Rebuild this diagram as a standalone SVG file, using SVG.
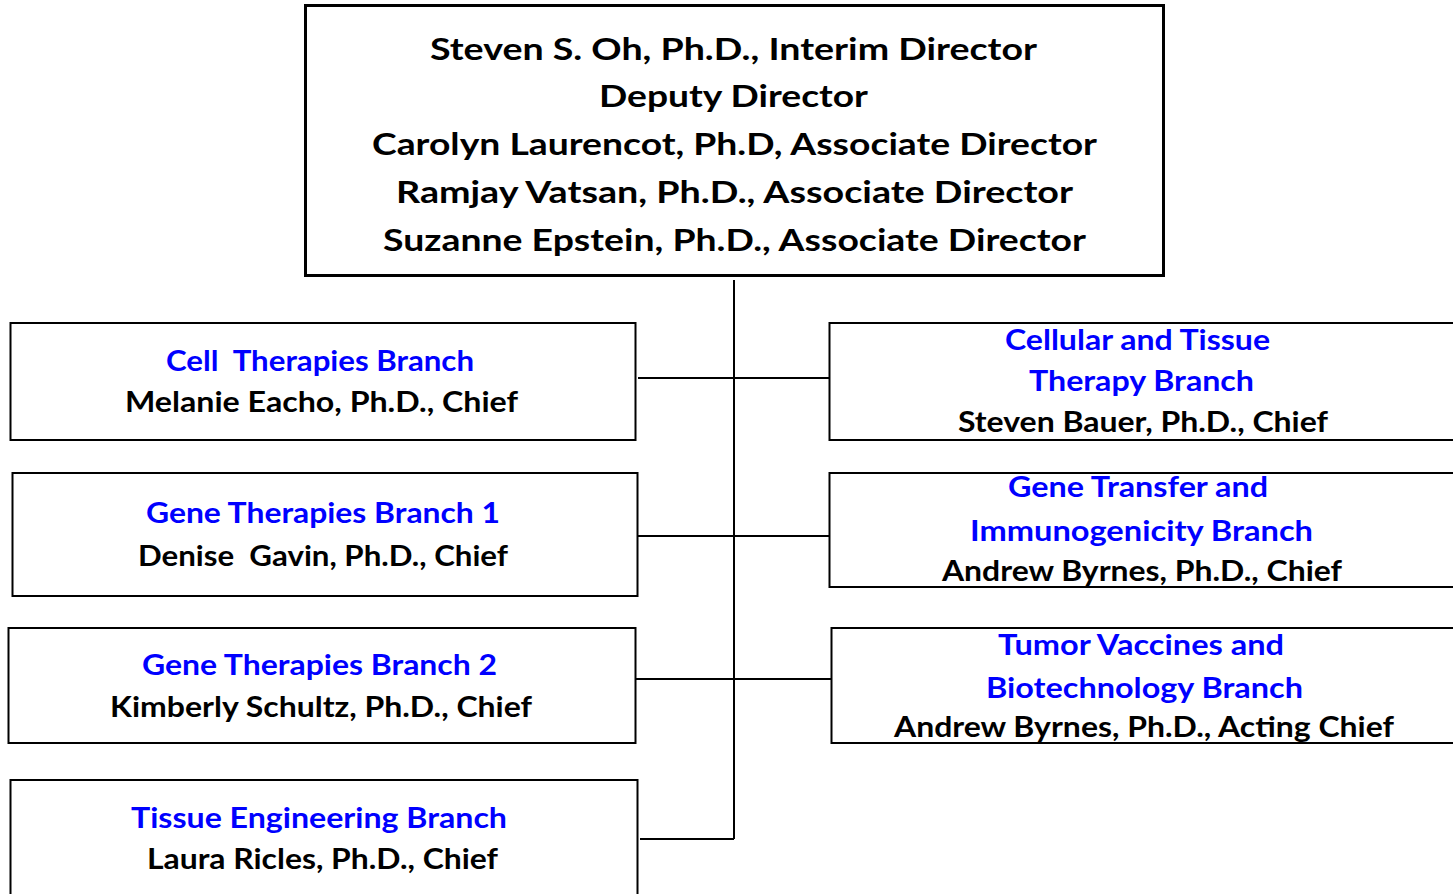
<svg xmlns="http://www.w3.org/2000/svg" width="1453" height="894" viewBox="0 0 1453 894">
<style>
.box{fill:#fff;stroke:#000;stroke-width:2}
.top{fill:#fff;stroke:#000;stroke-width:3}
text{white-space:pre}
.t{font-family:Lato,"Liberation Sans",sans-serif;font-weight:bold;font-size:29px;fill:#000}
.tt{font-family:Lato,"Liberation Sans",sans-serif;font-weight:bold;font-size:31px;fill:#000}
.b{fill:#0000ff}
.c{fill:none;stroke:#000;stroke-width:2}
</style>
<rect width="1453" height="894" fill="#fff"/>
<g id="connectors">
<path class="c" d="M734 280V839M638 378H829M638 536H829M636 679H831M640 839H734"/>
</g>
<g id="director">
<rect class="top" x="305.5" y="5.5" width="858" height="270"/>
<text class="tt" x="430" y="60" textLength="607" lengthAdjust="spacingAndGlyphs">Steven S. Oh, Ph.D., Interim Director</text>
<text class="tt" x="599" y="107" textLength="269" lengthAdjust="spacingAndGlyphs">Deputy Director</text>
<text class="tt" x="372" y="155" textLength="725" lengthAdjust="spacingAndGlyphs">Carolyn Laurencot, Ph.D, Associate Director</text>
<text class="tt" x="396" y="203" textLength="677" lengthAdjust="spacingAndGlyphs">Ramjay Vatsan, Ph.D., Associate Director</text>
<text class="tt" x="383" y="251" textLength="703" lengthAdjust="spacingAndGlyphs">Suzanne Epstein, Ph.D., Associate Director</text>
</g>
<g id="cell-therapies">
<rect class="box" x="10.5" y="323" width="625" height="117"/>
<text class="t b" x="166" y="371" textLength="308" lengthAdjust="spacingAndGlyphs" xml:space="preserve">Cell  Therapies Branch</text>
<text class="t" x="125" y="412" textLength="393" lengthAdjust="spacingAndGlyphs">Melanie Eacho, Ph.D., Chief</text>
</g>
<g id="gene-therapies-1">
<rect class="box" x="12.5" y="473" width="625" height="123"/>
<text class="t b" x="146" y="523" textLength="354" lengthAdjust="spacingAndGlyphs">Gene Therapies Branch 1</text>
<text class="t" x="138" y="566" textLength="370" lengthAdjust="spacingAndGlyphs" xml:space="preserve">Denise  Gavin, Ph.D., Chief</text>
</g>
<g id="gene-therapies-2">
<rect class="box" x="8.5" y="628" width="627" height="115"/>
<text class="t b" x="142" y="675" textLength="355" lengthAdjust="spacingAndGlyphs">Gene Therapies Branch 2</text>
<text class="t" x="110" y="717" textLength="422" lengthAdjust="spacingAndGlyphs">Kimberly Schultz, Ph.D., Chief</text>
</g>
<g id="tissue-engineering">
<rect class="box" x="10.5" y="780" width="627" height="130"/>
<text class="t b" x="131" y="828" textLength="376" lengthAdjust="spacingAndGlyphs">Tissue Engineering Branch</text>
<text class="t" x="147" y="869" textLength="351" lengthAdjust="spacingAndGlyphs">Laura Ricles, Ph.D., Chief</text>
</g>
<g id="cellular-tissue-therapy">
<rect class="box" x="829.5" y="323" width="640" height="117"/>
<text class="t b" x="1005" y="350" textLength="265" lengthAdjust="spacingAndGlyphs">Cellular and Tissue</text>
<text class="t b" x="1029" y="391" textLength="225" lengthAdjust="spacingAndGlyphs">Therapy Branch</text>
<text class="t" x="958" y="432" textLength="370" lengthAdjust="spacingAndGlyphs">Steven Bauer, Ph.D., Chief</text>
</g>
<g id="gene-transfer">
<rect class="box" x="829.5" y="473" width="640" height="114"/>
<text class="t b" x="1008" y="497" textLength="260" lengthAdjust="spacingAndGlyphs">Gene Transfer and</text>
<text class="t b" x="970" y="541" textLength="343" lengthAdjust="spacingAndGlyphs">Immunogenicity Branch</text>
<text class="t" x="942" y="581" textLength="400" lengthAdjust="spacingAndGlyphs">Andrew Byrnes, Ph.D., Chief</text>
</g>
<g id="tumor-vaccines">
<rect class="box" x="831.5" y="628" width="640" height="115"/>
<text class="t b" x="998" y="655" textLength="286" lengthAdjust="spacingAndGlyphs">Tumor Vaccines and</text>
<text class="t b" x="986" y="698" textLength="317" lengthAdjust="spacingAndGlyphs">Biotechnology Branch</text>
<text class="t" x="894" y="737" textLength="500" lengthAdjust="spacingAndGlyphs">Andrew Byrnes, Ph.D., Acting Chief</text>
</g>
</svg>
